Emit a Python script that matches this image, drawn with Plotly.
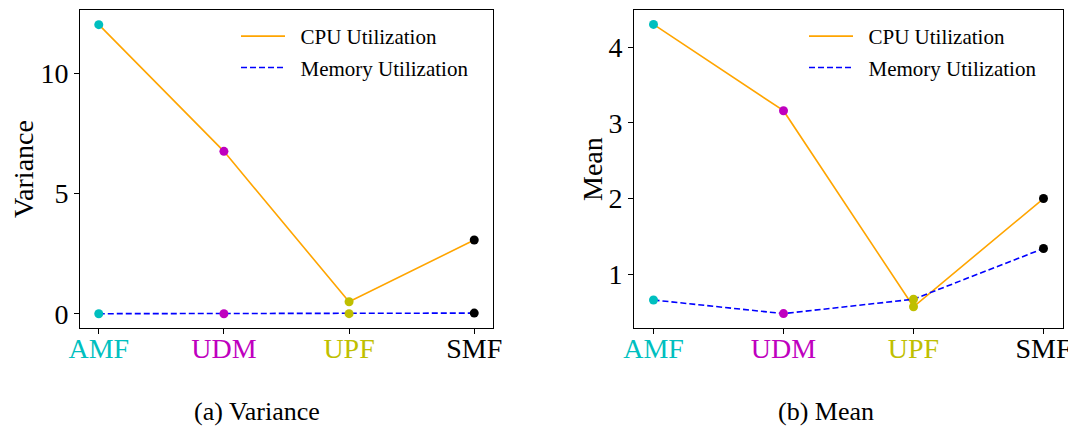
import plotly.graph_objects as go

# ---- data ----
categories = ["AMF", "UDM", "UPF", "SMF"]
cat_colors = ["#00BFBF", "#BF00BF", "#BFBF00", "#000000"]
var_cpu = [12.03, 6.76, 0.50, 3.07]
var_mem = [0.005, 0.004, 0.006, 0.03]
mean_cpu = [4.30, 3.16, 0.57, 2.00]
mean_mem = [0.66, 0.48, 0.67, 1.34]
var_ticks = [0, 5, 10]
mean_ticks = [1, 2, 3, 4]
series_names = ["CPU Utilization", "Memory Utilization"]

FONT = "Liberation Serif, Times New Roman, Times, DejaVu Serif, serif"
OFF = 8                      # page body margin of the browser
W, H = 1076 - OFF, 434 - OFF  # figure size so that the page fits the window

def px(x):  # reference pixel -> paper fraction (x)
    return (x - OFF) / W

def py(y):  # reference pixel -> paper fraction (y)
    return 1 - (y - OFF) / H

xpos = list(range(len(categories)))
ticktext = [f'<span style="color:{c}">{t}</span>' for t, c in zip(categories, cat_colors)]
NB = "\u00a0\u00a0"

fig = go.Figure()

def add_panel(cpu, mem, xa, ya, leg):
    fig.add_trace(go.Scatter(x=xpos, y=cpu, mode="lines", name=NB + series_names[0],
                             line=dict(color="#FFA500", width=1.6), legendgroup="cpu",
                             xaxis=xa, yaxis=ya, legend=leg))
    fig.add_trace(go.Scatter(x=xpos, y=mem, mode="lines", name=NB + series_names[1],
                             line=dict(color="#0000FF", width=1.6, dash="6px,3px"),
                             legendgroup="mem", xaxis=xa, yaxis=ya, legend=leg))
    for vals in (cpu, mem):
        fig.add_trace(go.Scatter(x=xpos, y=vals, mode="markers", showlegend=False,
                                 marker=dict(color=cat_colors, size=9, line=dict(width=0)),
                                 xaxis=xa, yaxis=ya))

add_panel(var_cpu, var_mem, "x", "y", "legend")
add_panel(mean_cpu, mean_mem, "x2", "y2", "legend2")

ydom = [py(328), py(10)]
axis_common = dict(showgrid=False, zeroline=False, showline=True, linecolor="black",
                   linewidth=1, mirror=True, ticks="outside", ticklen=5, tickwidth=1,
                   tickcolor="black", automargin=False,
                   tickfont=dict(family=FONT, size=28, color="black"))

def ann(text, x, y, size, angle=0):
    return dict(text=text, x=px(x), y=py(y), xref="paper", yref="paper",
                xanchor="center", yanchor="middle", textangle=angle, showarrow=False,
                font=dict(family=FONT, size=size, color="black"))

legend_common = dict(xanchor="left", yanchor="top", bgcolor="rgba(0,0,0,0)",
                     font=dict(family=FONT, size=21, color="black"),
                     itemwidth=44, tracegroupgap=1, traceorder="grouped")

fig.update_layout(
    template="none",
    width=W, height=H, margin=dict(l=0, r=0, t=0, b=0, pad=0, autoexpand=False),
    paper_bgcolor="white", plot_bgcolor="white",
    font=dict(family=FONT, color="black"),
    xaxis=dict(domain=[px(80), px(493)], range=[-0.15, 3.15], tickvals=xpos,
               ticktext=ticktext, anchor="y", ticklabelstandoff=-10, **axis_common),
    yaxis=dict(domain=ydom, range=[-0.59, 12.64], tickvals=var_ticks, anchor="x",
               **axis_common),
    xaxis2=dict(domain=[px(634), px(1063)], range=[-0.15, 3.15], tickvals=xpos,
                ticktext=ticktext, anchor="y2", ticklabelstandoff=-10, **axis_common),
    yaxis2=dict(domain=ydom, range=[0.29, 4.49], tickvals=mean_ticks, anchor="x2",
                **axis_common),
    legend=dict(x=px(236), y=py(16), **legend_common),
    legend2=dict(x=px(804), y=py(16), **legend_common),
    annotations=[
        ann("Variance", 23, 169, 28, -90),
        ann("Mean", 592, 169, 28, -90),
        ann("(a) Variance", 257, 411, 26),
        ann("(b) Mean", 826, 411, 26),
    ],
)

fig.write_html("out.html")
